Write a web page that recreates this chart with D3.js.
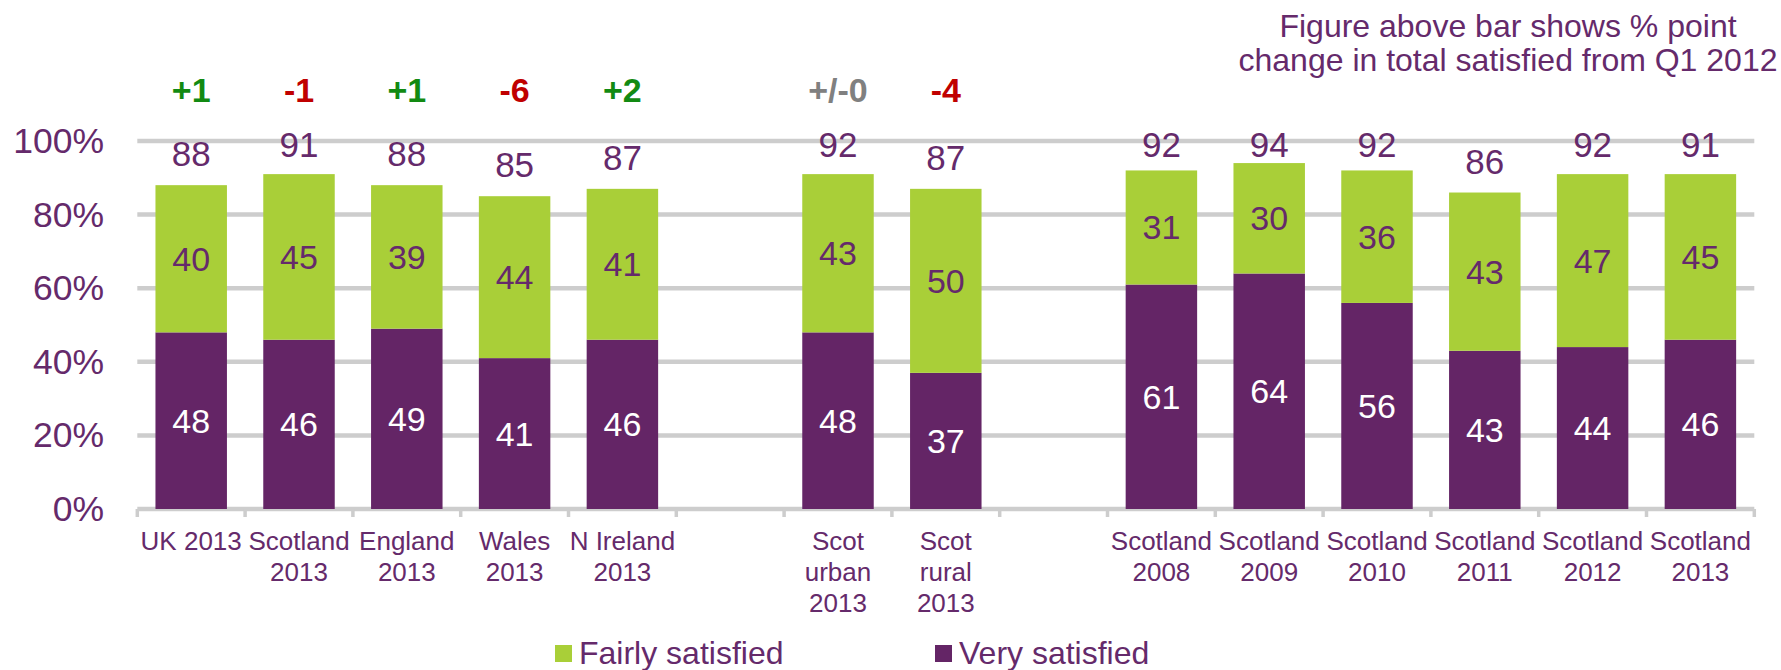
<!DOCTYPE html>
<html>
<head>
<meta charset="utf-8">
<script src="https://cdn.jsdelivr.net/npm/d3@7"></script>
<style>
    body { margin: 0; background: #ffffff; }
    .visual { width: 1781px; height: 670px; position: relative; }
    text { font-family: "Liberation Sans", Arial, sans-serif; }
</style>
</head>
<body>
<div class="visual"></div>
<script>
// categories (the gap ids are the empty slots between groups)
const categories = ["uk13", "scot13", "eng13", "wal13", "ni13", "gap1", "urb13", "rur13", "gap2",
    "s08", "s09", "s10", "s11", "s12", "s13"];
const catLabels = ["UK 2013", "Scotland\n2013", "England\n2013", "Wales\n2013", "N Ireland\n2013", "",
    "Scot\nurban\n2013", "Scot\nrural\n2013", "",
    "Scotland\n2008", "Scotland\n2009", "Scotland\n2010", "Scotland\n2011", "Scotland\n2012", "Scotland\n2013"];

const verySatisfied =   [48, 46, 49, 41, 46, null, 48, 37, null, 61, 64, 56, 43, 44, 46];
const fairlySatisfied = [40, 45, 39, 44, 41, null, 43, 50, null, 31, 30, 36, 43, 47, 45];
const totalSatisfied =  [88, 91, 88, 85, 87, null, 92, 87, null, 92, 94, 92, 86, 92, 91];
const changeLabels =    ["+1", "-1", "+1", "-6", "+2", "", "+/-0", "-4", "", "", "", "", "", "", ""];

const yTicks = [0, 20, 40, 60, 80, 100];
const seriesNames = ["Fairly satisfied", "Very satisfied"];
const noteLines = ["Figure above bar shows % point", "change in total satisfied from Q1 2012"];

const textPurple = "#652a6b";
const barPurple = "#642566";
const barGreen = "#a9cf38";
const gridGrey = "#cdcdcd";

function changeColour(label) {
    if (label.startsWith("+/-")) return "#808080";
    if (label.startsWith("+")) return "#128a12";
    return "#c00000";
}

function display() {
    const width = 1781, height = 670;

    const svg = d3.select(".visual")
        .append("svg")
        .attr("width", width)
        .attr("height", height);

    const x = d3.scaleBand()
        .domain(categories)
        .range([137.3, 1754.3])
        .paddingInner(0.337)
        .paddingOuter(0.1685);

    const y = d3.scaleLinear()
        .domain([0, 100])
        .range([509, 141]);

    const rows = categories.map((c, i) => ({
        id: c,
        label: catLabels[i],
        very: verySatisfied[i],
        fairly: fairlySatisfied[i],
        total: totalSatisfied[i],
        change: changeLabels[i]
    }));
    const filled = rows.filter(d => d.very !== null);

    // gridlines + axis line
    svg.append("g")
        .selectAll("line")
        .data(yTicks)
        .enter()
        .append("line")
        .attr("x1", x.range()[0])
        .attr("x2", x.range()[1])
        .attr("y1", d => y(d))
        .attr("y2", d => y(d))
        .attr("stroke", gridGrey)
        .attr("stroke-width", 4.5);

    // tick marks between categories
    const half = (x.step() - x.bandwidth()) / 2;
    const bounds = categories.map(c => x(c) - half).concat([x.range()[1]]);
    svg.append("g")
        .selectAll("line")
        .data(bounds)
        .enter()
        .append("line")
        .attr("x1", d => d)
        .attr("x2", d => d)
        .attr("y1", y(0))
        .attr("y2", y(0) + 8)
        .attr("stroke", gridGrey)
        .attr("stroke-width", 3.5);

    // y axis labels
    svg.append("g")
        .selectAll("text")
        .data(yTicks)
        .enter()
        .append("text")
        .attr("x", 104)
        .attr("y", d => y(d))
        .attr("text-anchor", "end")
        .attr("dominant-baseline", "central")
        .style("font-size", "35.5px")
        .style("fill", textPurple)
        .text(d => d + "%");

    // very satisfied (bottom)
    svg.append("g")
        .selectAll("rect")
        .data(filled)
        .enter()
        .append("rect")
        .attr("x", d => x(d.id))
        .attr("width", x.bandwidth())
        .attr("y", d => y(d.very))
        .attr("height", d => y(0) - y(d.very))
        .attr("fill", barPurple);

    // fairly satisfied (stacked on top)
    svg.append("g")
        .selectAll("rect")
        .data(filled)
        .enter()
        .append("rect")
        .attr("x", d => x(d.id))
        .attr("width", x.bandwidth())
        .attr("y", d => y(d.very + d.fairly))
        .attr("height", d => y(d.very) - y(d.very + d.fairly))
        .attr("fill", barGreen);

    // segment labels
    const cx = d => x(d.id) + x.bandwidth() / 2;
    svg.append("g")
        .selectAll("text")
        .data(filled)
        .enter()
        .append("text")
        .attr("x", cx)
        .attr("y", d => y(d.very / 2))
        .attr("text-anchor", "middle")
        .attr("dominant-baseline", "central")
        .style("font-size", "34px")
        .style("fill", "white")
        .text(d => d.very);

    svg.append("g")
        .selectAll("text")
        .data(filled)
        .enter()
        .append("text")
        .attr("x", cx)
        .attr("y", d => y(d.very + d.fairly / 2))
        .attr("text-anchor", "middle")
        .attr("dominant-baseline", "central")
        .style("font-size", "34px")
        .style("fill", textPurple)
        .text(d => d.fairly);

    // totals above bars, kept inside the plot area like excel does
    svg.append("g")
        .selectAll("text")
        .data(filled)
        .enter()
        .append("text")
        .attr("x", cx)
        .attr("y", d => Math.max(y(d.very + d.fairly) - 19, 156.5))
        .attr("text-anchor", "middle")
        .style("font-size", "35px")
        .style("fill", textPurple)
        .text(d => d.total);

    // change since Q1 2012
    svg.append("g")
        .selectAll("text")
        .data(rows.filter(d => d.change !== ""))
        .enter()
        .append("text")
        .attr("x", cx)
        .attr("y", 102)
        .attr("text-anchor", "middle")
        .style("font-size", "34px")
        .style("font-weight", "bold")
        .style("fill", d => changeColour(d.change))
        .text(d => d.change);

    // category labels
    const catText = svg.append("g")
        .selectAll("text")
        .data(rows)
        .enter()
        .append("text")
        .attr("text-anchor", "middle")
        .style("font-size", "26px")
        .style("fill", textPurple);

    catText.selectAll("tspan")
        .data(d => d.label === "" ? [] : d.label.split("\n").map(l => ({ id: d.id, line: l })))
        .enter()
        .append("tspan")
        .attr("x", d => x(d.id) + x.bandwidth() / 2)
        .attr("y", (d, i) => 550 + i * 31)
        .text(d => d.line);

    // note top right
    svg.append("g")
        .selectAll("text")
        .data(noteLines)
        .enter()
        .append("text")
        .attr("x", 1508)
        .attr("y", (d, i) => 37 + i * 34)
        .attr("text-anchor", "middle")
        .style("font-size", "32px")
        .style("fill", textPurple)
        .text(d => d);

    // legend
    const legendX = [555, 935];
    const legendCol = [barGreen, barPurple];
    const legend = svg.append("g")
        .selectAll("g")
        .data(seriesNames)
        .enter()
        .append("g")
        .attr("transform", (d, i) => `translate(${legendX[i]}, 645)`);

    legend.append("rect")
        .attr("width", 17)
        .attr("height", 17)
        .attr("fill", (d, i) => legendCol[i]);

    legend.append("text")
        .attr("x", 24)
        .attr("y", 19)
        .style("font-size", "32px")
        .style("fill", textPurple)
        .text(d => d);
}

window.onload = function() {
    display();
};
</script>
</body>
</html>
